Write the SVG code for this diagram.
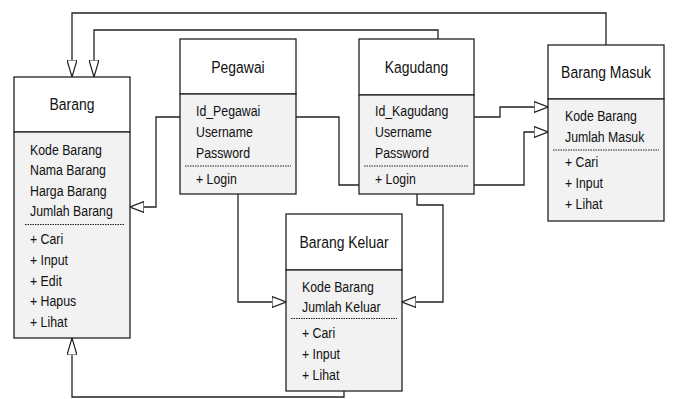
<svg xmlns="http://www.w3.org/2000/svg" width="673" height="399" viewBox="0 0 673 399">
  <style>
    .head { fill: #ffffff; stroke: #222; stroke-width: 1.3; }
    .body { fill: #f2f2f2; stroke: #222; stroke-width: 1.3; }
    .sep { stroke: #222; stroke-width: 1; stroke-dasharray: 1.5 1; fill: none; }
    .title { font-family: "Liberation Sans", Arial, sans-serif; font-size: 17px; fill: #111; text-anchor: middle; }
    .item { font-family: "Liberation Sans", Arial, sans-serif; font-size: 14.5px; fill: #111; }
    .link { fill: none; stroke: #222; stroke-width: 1.3; }
  </style>
  <defs>
    <marker id="tri-v" viewBox="0 0 17 10" refX="17" refY="5" markerWidth="17" markerHeight="10" markerUnits="userSpaceOnUse" orient="auto">
      <path d="M0,0 L17,5 L0,10 Z" fill="#fff" stroke="#222" stroke-width="1.2"/>
    </marker>
    <marker id="tri-h" viewBox="0 0 14 12" refX="14" refY="6" markerWidth="14" markerHeight="12" markerUnits="userSpaceOnUse" orient="auto">
      <path d="M0,0.5 L14,6 L0,11.5 Z" fill="#fff" stroke="#222" stroke-width="1.2"/>
    </marker>
  </defs>

  <!-- connectors (drawn first so the class boxes cover them) -->
  <g id="connectors">
    <path class="link" d="M606,45 V13 H72 V77" marker-end="url(#tri-v)"/>
    <path class="link" d="M438,39 V30 H94 V77" marker-end="url(#tri-v)"/>
    <path class="link" d="M180,117 H156 V207 H130" marker-end="url(#tri-h)"/>
    <path class="link" d="M296,117 H339 V185 H524 V132 H548" marker-end="url(#tri-h)"/>
    <path class="link" d="M474,117 H500 V107 H548" marker-end="url(#tri-h)"/>
    <path class="link" d="M238,194 V302 H286" marker-end="url(#tri-h)"/>
    <path class="link" d="M417,194 V205 H443 V302 H402" marker-end="url(#tri-h)"/>
    <path class="link" d="M344,391 V397 H72 V338" marker-end="url(#tri-v)"/>
  </g>

  <g id="barang">
    <rect class="head" x="14" y="77" width="116" height="55"/>
    <rect class="body" x="14" y="132" width="116" height="206"/>
    <line class="sep" x1="25" y1="224.5" x2="124" y2="224.5"/>
    <g transform="translate(72,0) scale(0.82,1)">
      <text class="title" x="0" y="110.5">Barang</text>
    </g>
    <g transform="translate(30,0) scale(0.85,1)">
      <text class="item" x="0" y="155">Kode Barang</text>
      <text class="item" x="0" y="175.5">Nama Barang</text>
      <text class="item" x="0" y="196">Harga Barang</text>
      <text class="item" x="0" y="216.5">Jumlah Barang</text>
      <text class="item" x="0" y="244">+ Cari</text>
      <text class="item" x="0" y="265">+ Input</text>
      <text class="item" x="0" y="286">+ Edit</text>
      <text class="item" x="0" y="306.5">+ Hapus</text>
      <text class="item" x="0" y="327">+ Lihat</text>
    </g>
  </g>

  <g id="pegawai">
    <rect class="head" x="180" y="39" width="116" height="55"/>
    <rect class="body" x="180" y="94" width="116" height="100"/>
    <line class="sep" x1="185" y1="166" x2="291" y2="166"/>
    <g transform="translate(238,0) scale(0.82,1)">
      <text class="title" x="0" y="73">Pegawai</text>
    </g>
    <g transform="translate(196,0) scale(0.85,1)">
      <text class="item" x="0" y="116">Id_Pegawai</text>
      <text class="item" x="0" y="137">Username</text>
      <text class="item" x="0" y="158">Password</text>
      <text class="item" x="0" y="184">+ Login</text>
    </g>
  </g>

  <g id="kagudang">
    <rect class="head" x="359" y="39" width="115" height="56"/>
    <rect class="body" x="359" y="95" width="115" height="99"/>
    <line class="sep" x1="364" y1="166" x2="469" y2="166"/>
    <g transform="translate(416.5,0) scale(0.82,1)">
      <text class="title" x="0" y="73">Kagudang</text>
    </g>
    <g transform="translate(375,0) scale(0.85,1)">
      <text class="item" x="0" y="116">Id_Kagudang</text>
      <text class="item" x="0" y="137">Username</text>
      <text class="item" x="0" y="158">Password</text>
      <text class="item" x="0" y="184">+ Login</text>
    </g>
  </g>

  <g id="barang-masuk">
    <rect class="head" x="548" y="45" width="116" height="54"/>
    <rect class="body" x="548" y="99" width="116" height="122"/>
    <line class="sep" x1="553" y1="150" x2="659" y2="150"/>
    <g transform="translate(606,0) scale(0.82,1)">
      <text class="title" x="0" y="78">Barang Masuk</text>
    </g>
    <g transform="translate(565,0) scale(0.85,1)">
      <text class="item" x="0" y="121">Kode Barang</text>
      <text class="item" x="0" y="142">Jumlah Masuk</text>
      <text class="item" x="0" y="167.5">+ Cari</text>
      <text class="item" x="0" y="188.5">+ Input</text>
      <text class="item" x="0" y="209">+ Lihat</text>
    </g>
  </g>

  <g id="barang-keluar">
    <rect class="head" x="286" y="214" width="116" height="56"/>
    <rect class="body" x="286" y="270" width="116" height="121"/>
    <line class="sep" x1="291" y1="318.5" x2="397" y2="318.5"/>
    <g transform="translate(344,0) scale(0.82,1)">
      <text class="title" x="0" y="248">Barang Keluar</text>
    </g>
    <g transform="translate(302,0) scale(0.85,1)">
      <text class="item" x="0" y="292">Kode Barang</text>
      <text class="item" x="0" y="312">Jumlah Keluar</text>
      <text class="item" x="0" y="338">+ Cari</text>
      <text class="item" x="0" y="359">+ Input</text>
      <text class="item" x="0" y="380">+ Lihat</text>
    </g>
  </g>
</svg>
